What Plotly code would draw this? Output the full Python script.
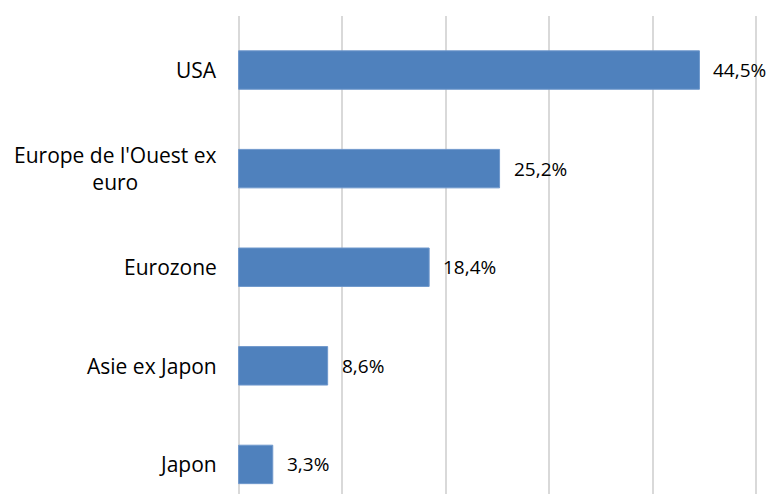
import plotly.graph_objects as go

categories = ["USA", "Europe de l'Ouest ex<br>euro", "Eurozone", "Asie ex Japon", "Japon"]
values = [44.5, 25.2, 18.4, 8.6, 3.3]
value_labels = ["44,5%", "25,2%", "18,4%", "8,6%", "3,3%"]
grid_ticks = [0, 10, 20, 30, 40, 50]

FONT = "Open Sans"

fig = go.Figure()
fig.add_trace(go.Bar(
    x=values, y=list(range(len(categories))), orientation="h",
    marker=dict(color="#4F81BD", line=dict(color="#6f98cc", width=1)),
    width=0.39, hoverinfo="skip",
))

annotations = []
for i, (cat, v, lab) in enumerate(zip(categories, values, value_labels)):
    annotations.append(dict(
        x=0, y=i, xref="x", yref="y", text=cat, showarrow=False,
        xanchor="right", yanchor="middle", align="center", xshift=-20,
        font=dict(family=FONT, size=21, color="#000000"),
    ))
    annotations.append(dict(
        x=v, y=i, xref="x", yref="y", text=lab, showarrow=False,
        xanchor="left", yanchor="middle", xshift=12,
        font=dict(family=FONT, size=19, color="#000000"),
    ))

fig.update_layout(
    width=758, height=486,
    margin=dict(l=228, r=7, t=8, b=0),
    paper_bgcolor="white", plot_bgcolor="white",
    showlegend=False,
    annotations=annotations,
    xaxis=dict(range=[-0.25, 50.25], tickvals=grid_ticks, showticklabels=False,
               showgrid=True, gridcolor="#d9d9d9", gridwidth=1.5, zeroline=False,
               showline=False, fixedrange=True),
    yaxis=dict(range=[4.30, -0.548], showticklabels=False, showgrid=False,
               zeroline=False, showline=False, fixedrange=True),
)

fig.write_html("out.html")
